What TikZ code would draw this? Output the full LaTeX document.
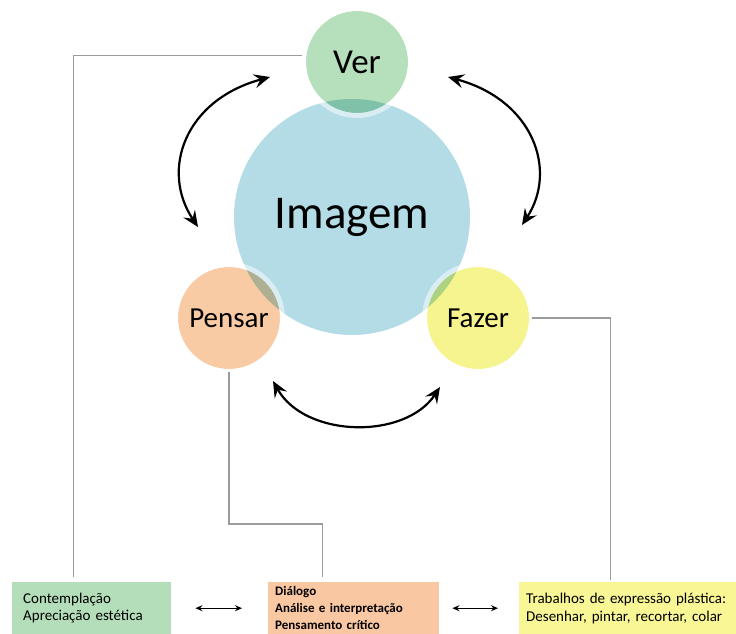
\documentclass[tikz,border=0pt]{standalone}
\usepackage{fontspec}
\setmainfont{Carlito}
\usetikzlibrary{arrows.meta}

\definecolor{imgblue}{RGB}{180,220,230}
\definecolor{vergreen}{RGB}{182,224,188}
\definecolor{pensarorange}{RGB}{249,203,164}
\definecolor{fazeryellow}{RGB}{246,244,142}
\definecolor{boxgreen}{RGB}{180,222,186}
\definecolor{boxorange}{RGB}{249,200,163}
\definecolor{boxyellow}{RGB}{249,246,150}
\definecolor{linegray}{RGB}{155,155,155}

\begin{document}
\begin{tikzpicture}[x=1pt, y=-1pt,
  petal/.style={circle, inner sep=0pt, outer sep=0pt, minimum size=102pt, font=\fontsize{29}{31}\selectfont},
  ring/.style={draw=white, draw opacity=0.5, line width=5pt},
  link/.style={draw=linegray, line width=1.3pt},
  cycle/.style={{Stealth[length=16pt,width=14pt,inset=6pt]}-{Stealth[length=16pt,width=14pt,inset=6pt]}, line width=2.2pt},
  pair/.style={{Stealth[length=7pt,width=6pt]}-{Stealth[length=7pt,width=6pt]}, line width=1.4pt},
  infobox/.style={anchor=north west, minimum height=52pt, inner ysep=0pt, align=left, font=\fontsize{15}{17}\selectfont}
]
\useasboundingbox (0,0) rectangle (736,634);

% central circle
\node (imagem)[circle, fill=imgblue, minimum size=236pt, inner sep=0pt, font=\fontsize{47}{50}\selectfont] at (352,217) {Imagem};

% the three small circles
\begin{scope}[blend mode=multiply]
\node (ver)[petal, fill=vergreen, font=\fontsize{35}{37}\selectfont] at (357,62) {Ver};
\node (pensar)[petal, fill=pensarorange] at (229,318) {Pensar};
\node (fazer)[petal, fill=fazeryellow] at (478,318) {Fazer};
\end{scope}

\draw[ring] (ver.center) circle (53.5);
\draw[ring] (pensar.center) circle (53.5);
\draw[ring] (fazer.center) circle (53.5);

% boxes
\node (contemp)[infobox, fill=boxgreen, inner xsep=11pt, text width=137pt] at (12,582)
  {Contemplação\\Apreciação estética};
\node (dialogo)[infobox, fill=boxorange, inner xsep=7pt, text width=157pt, font=\fontsize{13}{17}\selectfont\bfseries] at (268,582)
  {Diálogo\\Análise e interpretação\\Pensamento crítico};
\node (trabalhos)[infobox, fill=boxyellow, inner xsep=7pt, text width=212pt, font=\fontsize{15}{18}\selectfont] at (519,582)
  {Trabalhos de expressão plástica:\\Desenhar, pintar, recortar, colar};

% cycle arrows
\coordinate (verleft) at (270,77);
\coordinate (verright) at (448,77);
\coordinate (pensartop) at (198,227);
\coordinate (fazertop) at (522,225);
\coordinate (pensarright) at (273,381);
\coordinate (fazerleft) at (440,387);

\draw[cycle] (verleft) .. controls (185,100) and (160,170) .. (pensartop);
\draw[cycle] (verright) .. controls (533,100) and (558,170) .. (fazertop);
\draw[cycle] (pensarright) .. controls (305,438) and (405,440) .. (fazerleft);

% connectors to the boxes
\draw[link] ([xshift=-4pt]ver.173) -| ([xshift=-18.5pt, yshift=5pt]contemp.north);
\draw[link] ([yshift=-3pt]pensar.south) -- ++(0,152) -| ([xshift=-31.5pt, yshift=5pt]dialogo.north);
\draw[link] ([xshift=3pt]fazer.east) -| ([xshift=-21.5pt, yshift=2pt]trabalhos.north);

\draw[pair, shorten <=24pt, shorten >=26pt] (contemp.east) -- (dialogo.west);
\draw[pair, shorten <=13pt, shorten >=21pt] (dialogo.east) -- (trabalhos.west);

\end{tikzpicture}
\end{document}
